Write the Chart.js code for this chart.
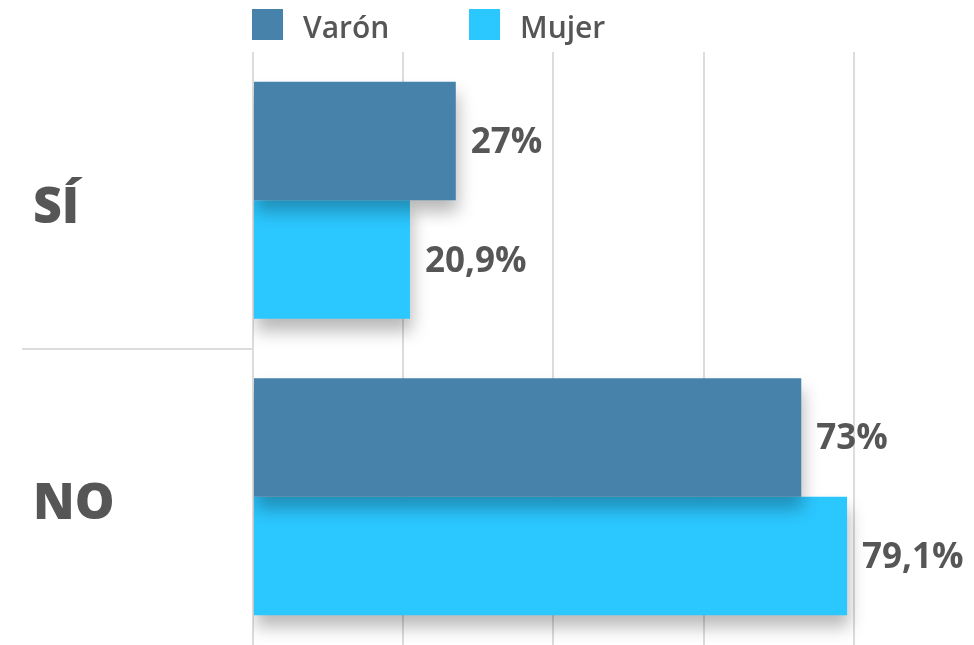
<!DOCTYPE html>
<html>
<head>
<meta charset="utf-8">
<script src="https://cdn.jsdelivr.net/npm/chart.js@4"></script>
<style>
  html, body { margin: 0; padding: 0; background: #fff; }
  #wrap { width: 974px; height: 645px; }
</style>
</head>
<body>
<div id="wrap"><canvas id="myChart"></canvas></div>
<script>
// Chart data
const categories = ['SÍ', 'NO'];
const seriesNames = ['Varón', 'Mujer'];
const varonValues = [27, 73];
const mujerValues = [20.9, 79.1];
const gridTicks = [0, 20, 40, 60, 80];

const colors = ['#4682aa', '#2bc7ff'];
const textColor = '#565656';
const fontFamily = "'Open Sans', 'Noto Sans', sans-serif";

// Soft shadow under the bars
const shadowPlugin = {
    id: 'barShadow',
    beforeDatasetDraw(chart) {
        const ctx = chart.ctx;
        ctx.save();
        ctx.shadowColor = 'rgba(0, 0, 0, 0.28)';
        ctx.shadowBlur = 16;
        ctx.shadowOffsetX = 2;
        ctx.shadowOffsetY = 12;
    },
    afterDatasetDraw(chart) {
        chart.ctx.restore();
    }
};

// Value labels at the end of each bar, with decimal comma
const valueLabels = {
    id: 'valueLabels',
    afterDatasetsDraw(chart) {
        const ctx = chart.ctx;
        ctx.save();
        ctx.fillStyle = textColor;
        ctx.font = `700 35px ${fontFamily}`;
        ctx.textAlign = 'left';
        ctx.textBaseline = 'middle';
        chart.data.datasets.forEach((ds, i) => {
            chart.getDatasetMeta(i).data.forEach((bar, j) => {
                const txt = String(ds.data[j]).replace('.', ',') + '%';
                ctx.fillText(txt, bar.x + 15, bar.y + 2);
            });
        });
        ctx.restore();
    }
};

// Legend drawn at the top, above the plot
const topLegend = {
    id: 'topLegend',
    afterDraw(chart) {
        const ctx = chart.ctx;
        ctx.save();
        ctx.font = `600 30px ${fontFamily}`;
        ctx.textBaseline = 'middle';
        ctx.textAlign = 'left';
        let x = chart.chartArea.left - 1;
        chart.data.datasets.forEach(ds => {
            ctx.fillStyle = ds.backgroundColor;
            ctx.fillRect(x, 9, 31, 31);
            ctx.fillStyle = textColor;
            ctx.fillText(ds.label, x + 51, 29);
            x += 217;
        });
        ctx.restore();
    }
};

const ctx = document.getElementById('myChart').getContext('2d');
const myChart = new Chart(ctx, {
    type: 'bar',
    data: {
        labels: categories,
        datasets: [
            { label: seriesNames[0], data: varonValues, backgroundColor: colors[0] },
            { label: seriesNames[1], data: mujerValues, backgroundColor: colors[1] },
        ],
    },
    options: {
        indexAxis: 'y',
        responsive: true,
        maintainAspectRatio: false,
        animation: false,
        categoryPercentage: 0.8,
        barPercentage: 1.0,
        layout: {
            padding: { top: 52, left: 33, right: 0, bottom: 0 },
        },
        scales: {
            x: {
                min: 0,
                max: 96,
                afterBuildTicks: scale => {
                    scale.ticks = gridTicks.map(v => ({ value: v }));
                },
                afterFit: scale => {
                    scale.height = 0;
                    scale.paddingLeft = 0;
                    scale.paddingRight = 0;
                },
                ticks: { display: false },
                border: { display: false },
                grid: {
                    color: '#dcdcdc',
                    lineWidth: 2,
                    drawTicks: false,
                },
            },
            y: {
                afterFit: scale => {
                    scale.width = 220;
                    scale.paddingTop = 0;
                    scale.paddingBottom = 0;
                },
                ticks: {
                    crossAlign: 'far',
                    labelOffset: 8,
                    color: textColor,
                    font: { family: fontFamily, size: 50, weight: '800' },
                },
                border: { display: false },
                grid: {
                    drawOnChartArea: false,
                    drawTicks: true,
                    tickLength: 231,
                    lineWidth: 2,
                    color: ctx => (ctx.index === 1 ? '#dcdcdc' : 'rgba(0,0,0,0)'),
                },
            },
        },
        plugins: {
            legend: { display: false },
            tooltip: { enabled: false },
        },
    },
    plugins: [shadowPlugin, valueLabels, topLegend],
});
</script>
</body>
</html>
